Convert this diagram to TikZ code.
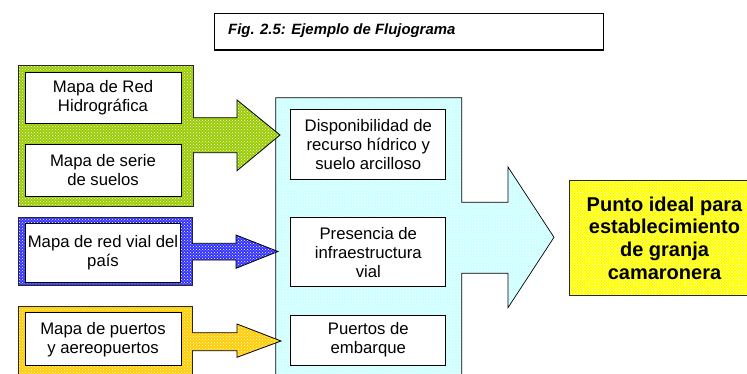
\documentclass[tikz,border=0pt]{standalone}
\usepackage{fontspec}
\setmainfont{Liberation Sans}
\usetikzlibrary{patterns}
\definecolor{grn}{RGB}{153,204,0}
\definecolor{blu}{RGB}{51,51,255}
\definecolor{gold}{RGB}{255,204,0}
\definecolor{cyn}{RGB}{204,255,255}
\definecolor{yel}{RGB}{255,255,0}
\definecolor{edge}{RGB}{40,40,40}
\begin{document}
\begin{tikzpicture}[x=1pt,y=-1pt,
  dotfill/.style={preaction={fill=#1}, pattern=crosshatch dots, pattern color=white},
  wbox/.style={draw=black, line width=0.9pt, fill=white, align=center, inner sep=0pt,
    font=\fontsize{16.7}{19}\selectfont},
  outerbox/.style={draw=edge, line width=0.9pt},
  arrowline/.style={draw=black, line width=0.8pt, line join=miter}
]
\useasboundingbox (0,0) rectangle (747,374);
\begin{scope}
\clip (0,0) rectangle (747,374);

% title
\node[draw=black, line width=1.3pt, minimum width=389pt, minimum height=36.5pt, inner sep=0pt,
  anchor=north west] (title) at (214,13) {};
\node[anchor=west, inner sep=0pt, font=\fontsize{14.9}{16}\selectfont\bfseries\itshape]
  (titletext) at (228,30.5) {Fig. 2.5: Ejemplo de Flujograma};

% cyan big arrow shape
\path[dotfill=cyn] (275.7,97.7) -- (461.7,97.7) -- (461.7,202.3) -- (508,202.3) -- (508,167)
  -- (554,237.3) -- (508,307.7) -- (508,273.3) -- (461.7,273.3) -- (461.7,390) -- (275.7,390) -- cycle;
\draw[arrowline, line width=0.7pt] (275.7,390) -- (275.7,97.7) -- (461.7,97.7) -- (461.7,202.3) -- (508,202.3) -- (508,167)
  -- (554,237.3) -- (508,307.7) -- (508,273.3) -- (461.7,273.3) -- (461.7,390);

% outer coloured boxes
\draw[outerbox, dotfill=grn] (18,65) rectangle (193,206);
\draw[outerbox, dotfill=blu] (18,217.7) rectangle (192,285);
\draw[outerbox, dotfill=gold] (18,306.7) rectangle (192,390);

% green arrow
\path[dotfill=grn] (192,117.7) -- (237,117.7) -- (237,100) -- (280,135) -- (237,170.7) -- (237,152.7) -- (192,152.7) -- cycle;
\draw[arrowline] (193,117.7) -- (237,117.7) -- (237,100) -- (280,135) -- (237,170.7) -- (237,152.7) -- (193,152.7);
% blue arrow
\path[dotfill=blu] (191,243.3) -- (236,243.3) -- (236,235) -- (278,251.5) -- (236,268.3) -- (236,260) -- (191,260) -- cycle;
\draw[arrowline] (192,243.3) -- (236,243.3) -- (236,235) -- (278,251.5) -- (236,268.3) -- (236,260) -- (192,260);
% yellow arrow
\path[dotfill=gold] (191,332.7) -- (237,332.7) -- (237,324) -- (281,341) -- (237,357.3) -- (237,350.7) -- (191,350.7) -- cycle;
\draw[arrowline] (192,332.7) -- (237,332.7) -- (237,324) -- (281,341) -- (237,357.3) -- (237,350.7) -- (192,350.7);

% inner white boxes
\node[wbox, minimum width=156pt, minimum height=51pt] (red) at (103,97.5) {Mapa de Red\\Hidrográfica};
\node[wbox, minimum width=156pt, minimum height=52pt] (serie) at (103,170) {Mapa de serie\\de suelos};
\node[wbox, minimum width=155pt, minimum height=59pt] (vial) at (103,252.5) {Mapa de red vial del\\país};
\node[wbox, minimum width=156pt, minimum height=53pt] (puertos) at (103,339.3) {Mapa de puertos\\y aereopuertos};

\node[wbox, minimum width=155pt, minimum height=70pt] (disp) at (368.3,144.3) {Disponibilidad de\\recurso hídrico y\\suelo arcilloso};
\node[wbox, minimum width=155pt, minimum height=69pt] (pres) at (368.3,252.2) {Presencia de\\infraestructura\\vial};
\node[wbox, minimum width=155pt, minimum height=50pt] (emb) at (368.3,340) {Puertos de\\embarque};

% result
\path[dotfill=yel] (569.3,180) rectangle (760,295.7);
\draw[draw=edge, line width=0.9pt] (569.3,180) rectangle (760,295.7);
\node[align=center, inner sep=0pt, font=\fontsize{20}{22.7}\selectfont\bfseries] (result) at (664.5,238)
  {Punto ideal para\\establecimiento\\de granja\\camaronera};
\end{scope}
\end{tikzpicture}
\end{document}
